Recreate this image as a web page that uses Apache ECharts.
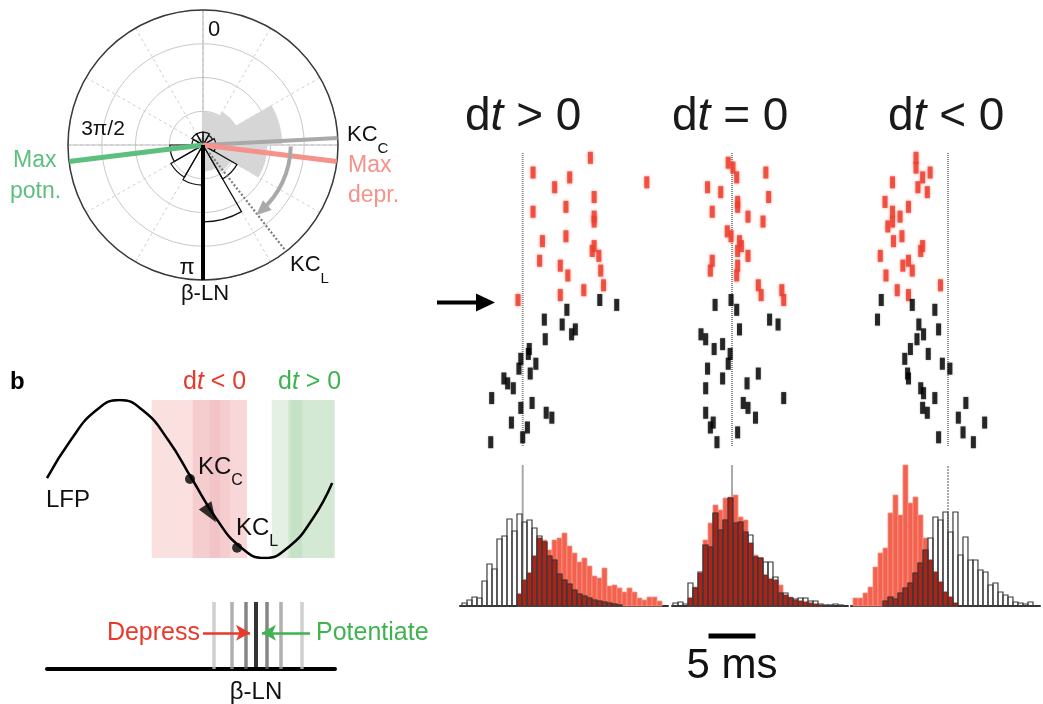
<!DOCTYPE html>
<html>
<head>
<meta charset="utf-8">
<script src="https://cdn.jsdelivr.net/npm/echarts@6/dist/echarts.min.js"></script>
<style>
html,body{margin:0;padding:0;background:#fff;}
#main{width:1043px;height:704px;}
</style>
</head>
<body>
<div id="main"></div>
<script>
var chart = echarts.init(document.getElementById('main'));
var FONT = '"Liberation Sans", Arial, Helvetica, sans-serif';

// ---- polar phase histograms (12 bins of 30 deg, radius in ring units) ----
var roseBins = ['0','30','60','90','120','150','180','210','240','270','300','330'];
var roseKcC = [0.98,1.13,2.34,1.9,0.95,0.78,0.2,0.17,0.17,0.2,0.25,0.22];
var roseBetaLN = [0.38,0.33,0.38,0.38,1.16,2.28,1.19,1.1,0.98,0.33,0.38,0.38];
// phase angles (deg, 0 at top, clockwise)
var angKcC = 87, angKcL = 142, angMaxDepr = 97, angMaxPotn = 263, angBetaLN = 180;
var arcAngles = [91, 103, 115, 127, 138];
var arcRadius = 2.6;

// ---- rasters: [time (ms from beta-LN spike), trial] ----
var rasterRed1 = [[7.2,1],[1.1,4],[5.0,5],[13.2,6],[3.4,7],[7.6,9],[1.1,12],[4.6,11],[7.6,13],[7.6,14],[2.1,18],[4.6,17],[7.6,19],[7.4,20],[8.1,21],[1.8,22],[4.0,23],[8.3,24],[4.8,25],[8.6,27],[6.5,28],[4.0,29],[-0.5,30]];
var rasterBlack1 = [[8.2,30],[10.0,31],[4.7,32],[2.3,34],[4.2,35],[5.6,36],[5.2,37],[2.4,38],[0.7,40],[0.6,41],[-0.2,42],[1.4,43],[-0.4,44],[0.8,45],[-2.0,46],[-1.6,47],[-1.0,48],[-3.3,50],[1.0,51],[-0.2,52],[2.5,53],[3.1,54],[-1.2,55],[0.5,56],[0.0,58],[-3.4,59]];
var rasterRed2 = [[-0.4,2],[0.1,3],[0.5,5],[3.6,4],[-2.6,7],[-1.2,8],[3.9,9],[0.6,10],[0.6,11],[-2.1,12],[1.7,13],[3.3,14],[-0.5,16],[-0.1,17],[0.8,18],[1.0,19],[0.6,20],[1.7,21],[-2.1,22],[0.6,23],[-2.3,24],[0.5,25],[2.8,27],[5.3,28],[3.1,29],[5.5,30]];
var rasterBlack2 = [[-0.1,30],[-1.8,31],[0.5,32],[4.0,34],[4.9,35],[0.8,36],[-3.3,37],[-2.8,38],[-1.0,39],[-1.9,40],[-0.2,41],[-0.4,43],[-2.6,44],[2.8,45],[-1.0,46],[1.6,47],[-2.8,48],[5.5,50],[1.2,51],[1.7,52],[-2.8,53],[2.5,54],[-2.0,55],[-2.3,56],[0.6,57],[-1.6,59]];
var rasterRed3 = [[-3.4,1],[-3.4,3],[-1.9,4],[-2.7,5],[-5.9,6],[-3.2,7],[-2.2,8],[-6.7,10],[-4.2,11],[-5.9,12],[-5.1,13],[-5.9,14],[-6.4,15],[-4.9,17],[-5.8,18],[-2.7,19],[-2.9,20],[-7.2,21],[-4.2,22],[-4.8,23],[-3.8,24],[-6.6,25],[-0.8,27],[-5.4,28],[-4.2,29]];
var rasterBlack3 = [[-7.1,30],[-3.8,31],[-1.4,32],[-7.5,34],[-3.1,35],[-1.0,36],[-2.6,37],[-3.3,38],[-4.0,40],[-2.1,41],[-4.6,42],[-0.6,43],[0.2,44],[-4.3,45],[-4.2,46],[-2.9,48],[-2.6,49],[-1.4,50],[1.9,51],[-2.7,52],[-2.2,53],[1.1,54],[3.9,55],[1.6,57],[-1.0,58],[2.7,59]];

// ---- spike-time histograms (counts per bin), first bin start in ms ----
var BIN = 0.532;
var histGray1 = [3,6,9,8,25,42,37,67,70,87,75,92,84,86,78,70,64,50,46,32,26,22,16,12,10,8,6,5,4,3,2,1];
var histRed1 = [12,26,33,50,68,66,56,66,68,73,60,53,44,48,40,30,28,38,20,21,18,14,18,14,8,6,9,9,5];
var histGray2 = [3,4,2,23,18,34,61,59,93,76,86,108,83,84,74,71,49,48,44,44,29,13,13,8,7,8,8,5,5,2,1,1,2,1];
var histRed2 = [8,19,33,66,83,101,96,108,109,111,89,86,63,51,48,31,27,26,21,11,9,6,5,4,3,2,1];
var histGray3 = [5,9,7,13,18,23,33,43,56,68,89,86,94,74,94,51,69,46,46,36,34,21,23,14,11,9,4,3,2,4];
var histRed3 = [8,8,13,19,39,53,58,93,111,91,141,103,109,91,68,46,34,24,14,9,3];
var grayStart = [-6.46, -6.28, -6.92];
var redStart = [-0.61, -4.68, -10.11];

// ---- LFP schematic (phase deg, normalised amplitude) ----
var lfpPhase = [0,30,60,90,120,150,180,210,240,270,300,330,354];
var lfpValue = [0.01,0.5,0.86,1,0.86,0.5,0,-0.5,-0.86,-1,-0.86,-0.5,-0.05];
var kcPoints = [[177.5,0.0],[236,-0.87]];
var lfpArrow = [203,-0.44];
var bandRed = [[130,248],[181,248],[181,227],[202,215]];
var bandGreen = [[279,357],[299,357],[302,317]];

// ---- timing diagram: other spikes around the beta-LN spike ----
var betaOffsets = [-42,-24,-10,0,11,25,46];

// layout of the three right-hand panels (px)
var PXMS = 9.4;
var panels = [
  {left: 460, right: 668, zero: 522.7},
  {left: 672, right: 848, zero: 732},
  {left: 851, right: 1040, zero: 948}
];

function binsToRects(counts, start) {
  return counts.map(function (c, i) { return [start + i * BIN, start + (i + 1) * BIN, c]; });
}
function overlapRects(gray, gStart, red, rStart) {
  var off = Math.round((rStart - gStart) / BIN);
  var out = [];
  red.forEach(function (c, i) {
    var g = gray[i + off];
    if (g !== undefined) out.push([rStart + i * BIN, rStart + (i + 1) * BIN, Math.min(c, g)]);
  });
  return out;
}
function histRender(fill, stroke, lw) {
  return function (params, api) {
    var p0 = api.coord([api.value(0), api.value(2)]);
    var p1 = api.coord([api.value(1), 0]);
    return {
      type: 'rect',
      shape: {x: p0[0], y: p0[1], width: p1[0] - p0[0], height: p1[1] - p0[1]},
      style: {fill: fill, stroke: stroke, lineWidth: lw}
    };
  };
}
function radial(angle, r0, r1, color, width, type) {
  return {
    type: 'line', coordinateSystem: 'polar', polarIndex: 1,
    data: [[r0, angle], [r1, angle]], showSymbol: false, silent: true,
    lineStyle: {color: color, width: width, type: type || 'solid', cap: 'butt'}, z: 4
  };
}

var grids = [], xAxes = [], yAxes = [], series = [];
// raster grids 0..2
panels.forEach(function (p) {
  grids.push({left: p.left, width: p.right - p.left, top: 148, height: 304});
  xAxes.push({gridIndex: xAxes.length, type: 'value', min: (p.left - p.zero) / PXMS, max: (p.right - p.zero) / PXMS, show: false});
  yAxes.push({gridIndex: yAxes.length, type: 'value', min: -1, max: 61, inverse: true, show: false});
});
// histogram grids 3..5
panels.forEach(function (p) {
  grids.push({left: p.left, width: p.right - p.left, top: 465, height: 141});
  xAxes.push({gridIndex: xAxes.length, type: 'value', min: (p.left - p.zero) / PXMS, max: (p.right - p.zero) / PXMS,
    axisLine: {show: true, onZero: false, lineStyle: {color: '#333', width: 2}},
    axisTick: {show: false}, axisLabel: {show: false}, splitLine: {show: false}});
  yAxes.push({gridIndex: yAxes.length, type: 'value', min: 0, max: 141, show: false});
});
// LFP grid (6) and timing grid (7)
grids.push({left: 47, width: 290, top: 400, height: 158});
grids.push({left: 47, width: 288, top: 602, height: 67});
xAxes.push({gridIndex: 6, type: 'value', min: 0, max: 360, show: false});
yAxes.push({gridIndex: 6, type: 'value', min: -1, max: 1, show: false});
xAxes.push({gridIndex: 7, type: 'value', min: -209, max: 79,
  axisLine: {show: true, lineStyle: {color: '#000', width: 4}},
  axisTick: {show: false}, axisLabel: {show: false}, splitLine: {show: false}});
yAxes.push({gridIndex: 7, type: 'value', min: 0, max: 1, show: false});

// polar
series.push({type: 'bar', coordinateSystem: 'polar', polarIndex: 0, data: roseKcC,
  barGap: '-100%', barCategoryGap: '0%', itemStyle: {color: '#d6d6d6', borderColor: '#d6d6d6', borderWidth: 0.6}, silent: true, z: 2});
series.push({type: 'bar', coordinateSystem: 'polar', polarIndex: 0, data: roseBetaLN,
  barGap: '-100%', barCategoryGap: '0%', itemStyle: {color: 'rgba(0,0,0,0)', borderColor: '#111', borderWidth: 1.2}, silent: true, z: 3});
series.push(radial(angKcC, 0, 4, '#a9a9a9', 4));
series.push(radial(angMaxDepr, 0, 4, '#f4928b', 5));
series.push(radial(angMaxPotn, 0, 4, '#5cbf7e', 5));
series.push(radial(angKcL, 0.3, 3.95, '#7a7a7a', 2.2, [2, 2]));
series.push(radial(angBetaLN, 0, 4, '#000', 4));
series.push({
  type: 'line', coordinateSystem: 'polar', polarIndex: 1, smooth: true, silent: true, z: 4,
  data: arcAngles.map(function (a, i) {
    var last = i === arcAngles.length - 1;
    return {value: [arcRadius, a], symbol: last ? 'triangle' : 'none', symbolSize: last ? [13, 15] : 0, symbolRotate: 132,
      itemStyle: {color: '#a9a9a9'}};
  }),
  showSymbol: true, lineStyle: {color: '#a9a9a9', width: 4}
});

// rasters
var rasterRed = [rasterRed1, rasterRed2, rasterRed3];
var rasterBlack = [rasterBlack1, rasterBlack2, rasterBlack3];
panels.forEach(function (p, i) {
  series.push({type: 'line', xAxisIndex: i, yAxisIndex: i, data: [[0, 0], [0, 60]], showSymbol: false, silent: true,
    lineStyle: {color: '#8c8c8c', width: 2, type: [1, 1]}, z: 1});
  series.push({type: 'scatter', xAxisIndex: i, yAxisIndex: i, data: rasterRed[i], symbol: 'rect', symbolSize: [5, 12],
    itemStyle: {color: '#ee3a2a', shadowBlur: 3, shadowColor: 'rgba(240,90,70,0.8)'}, silent: true, z: 3});
  series.push({type: 'scatter', xAxisIndex: i, yAxisIndex: i, data: rasterBlack[i], symbol: 'rect', symbolSize: [5, 12],
    itemStyle: {color: '#000', shadowBlur: 2, shadowColor: 'rgba(0,0,0,0.35)'}, silent: true, z: 3});
});

// histograms
var histGray = [histGray1, histGray2, histGray3];
var histRed = [histRed1, histRed2, histRed3];
panels.forEach(function (p, i) {
  var ax = 3 + i;
  series.push({type: 'line', xAxisIndex: ax, yAxisIndex: ax, data: [[0, 0], [0, 141]], showSymbol: false, silent: true,
    lineStyle: {color: '#aaa', width: 2, type: i === 2 ? [2, 1] : 'solid'}, z: 1});
  series.push({type: 'custom', xAxisIndex: ax, yAxisIndex: ax, encode: {x: [0, 1], y: 2}, silent: true, z: 2,
    data: binsToRects(histRed[i], redStart[i]), renderItem: histRender('#f4614f', '#f29585', 0.8)});
  series.push({type: 'custom', xAxisIndex: ax, yAxisIndex: ax, encode: {x: [0, 1], y: 2}, silent: true, z: 3,
    data: overlapRects(histGray[i], grayStart[i], histRed[i], redStart[i]), renderItem: histRender('#ad2318', '#8a1a12', 0.6)});
  series.push({type: 'custom', xAxisIndex: ax, yAxisIndex: ax, encode: {x: [0, 1], y: 2}, silent: true, z: 4,
    data: binsToRects(histGray[i], grayStart[i]), renderItem: histRender('rgba(255,255,255,0)', '#3c3c3c', 1.2)});
});

// LFP
var redColors = ['#fbe0e0', '#f9d6d7', '#f6cdcf', '#f3c4c7'];
var greenColors = ['#e5f0e5', '#d4e9d4', '#c6e2c6'];
series.push({
  type: 'line', xAxisIndex: 6, yAxisIndex: 6, smooth: true, showSymbol: false, silent: true, z: 3,
  data: lfpPhase.map(function (p, i) { return [p, lfpValue[i]]; }),
  lineStyle: {color: '#000', width: 2.5},
  markArea: {silent: true, data: bandRed.map(function (b, i) {
    return [{xAxis: b[0], itemStyle: {color: redColors[i]}}, {xAxis: b[1]}];
  }).concat(bandGreen.map(function (b, i) {
    return [{xAxis: b[0], itemStyle: {color: greenColors[i]}}, {xAxis: b[1]}];
  }))}
});
series.push({type: 'scatter', xAxisIndex: 6, yAxisIndex: 6, data: kcPoints, symbolSize: 10,
  itemStyle: {color: '#000'}, silent: true, z: 5});
series.push({type: 'scatter', xAxisIndex: 6, yAxisIndex: 6, data: [lfpArrow], symbol: 'triangle', symbolSize: [15, 20],
  symbolRotate: -147, itemStyle: {color: '#000'}, silent: true, z: 5});

// timing diagram
var betaShades = ['#c4c4c4', '#9c9c9c', '#666', '#000', '#666', '#9c9c9c', '#c4c4c4'];
series.push({
  type: 'scatter', xAxisIndex: 7, yAxisIndex: 7, silent: true, z: 3, symbol: 'rect',
  data: betaOffsets.map(function (v, i) {
    return {value: [v, 0.5], symbolSize: [v === 0 ? 4 : 3.5, 67], itemStyle: {color: betaShades[i]}};
  }),
  markLine: {silent: true, symbol: ['none', 'arrow'], symbolSize: [12, 14], label: {show: false},
    data: [
      [{coord: [-53, 0.54], lineStyle: {color: '#e8392a', width: 2.5, type: 'solid'}}, {coord: [-6, 0.54]}],
      [{coord: [54, 0.54], lineStyle: {color: '#3fb34f', width: 2.5, type: 'solid'}}, {coord: [6, 0.54]}]
    ]}
});

var option = {
  animation: false,
  backgroundColor: '#fff',
  polar: [
    {center: [203, 145], radius: 135},
    {center: [203, 145], radius: 135},
    {center: [203, 145], radius: 135}
  ],
  angleAxis: [
    {polarIndex: 0, type: 'category', data: roseBins, startAngle: 90, clockwise: true, boundaryGap: true,
      axisLine: {show: true, lineStyle: {color: '#3a3a3a', width: 1.5}}, axisTick: {show: false}, axisLabel: {show: false},
      splitLine: {show: false}},
    {polarIndex: 1, type: 'value', min: 0, max: 360, interval: 30, startAngle: 90, clockwise: true,
      axisLine: {show: false}, axisTick: {show: false}, axisLabel: {show: false},
      splitLine: {show: true, lineStyle: {color: '#cfcfcf', width: 1, type: [3, 3]}}},
    {polarIndex: 2, type: 'value', min: 0, max: 360, interval: 90, startAngle: 90, clockwise: true,
      axisLine: {show: false}, axisTick: {show: false}, axisLabel: {show: false},
      splitLine: {show: true, lineStyle: {color: '#bdbdbd', width: 1.2}}}
  ],
  radiusAxis: [
    {polarIndex: 0, type: 'value', min: 0, max: 4, interval: 1,
      axisLine: {show: false}, axisTick: {show: false}, axisLabel: {show: false},
      splitLine: {show: true, lineStyle: {color: '#c8c8c8', width: 1}}},
    {polarIndex: 1, type: 'value', min: 0, max: 4, interval: 1,
      axisLine: {show: false}, axisTick: {show: false}, axisLabel: {show: false}, splitLine: {show: false}},
    {polarIndex: 2, type: 'value', min: 0, max: 4, interval: 1,
      axisLine: {show: false}, axisTick: {show: false}, axisLabel: {show: false}, splitLine: {show: false}}
  ],
  grid: grids,
  xAxis: xAxes,
  yAxis: yAxes,
  series: series
};
chart.setOption(option);

// ---- annotations ----
function txt(x, y, text, size, color, align, extra) {
  var st = {text: text, fontSize: size, fontFamily: FONT, fill: color || '#111',
    align: align || 'left', textAlign: align || 'left', verticalAlign: 'middle', textVerticalAlign: 'middle'};
  if (extra) for (var k in extra) st[k] = extra[k];
  return {type: 'text', x: x, y: y, silent: true, z: 100, style: st};
}
function dtRich(size, color) {
  return {
    d: {fontSize: size, fontFamily: FONT, fill: color, color: color},
    t: {fontSize: size, fontFamily: FONT, fontStyle: 'italic', fill: color, color: color}
  };
}
function kcRich(size, color) {
  return {
    m: {fontSize: size, fontFamily: FONT, fill: color, color: color, lineHeight: size + 10, verticalAlign: 'top'},
    s: {fontSize: Math.round(size * 0.68), fontFamily: FONT, fill: color, color: color, lineHeight: size + 10, verticalAlign: 'bottom'}
  };
}
var elements = [];
// titles
elements.push(txt(465, 117, '{d|d}{t|t}{d| > 0}', 46, '#1a1a1a', 'left', {rich: dtRich(46, '#1a1a1a')}));
elements.push(txt(672, 117, '{d|d}{t|t}{d| = 0}', 46, '#1a1a1a', 'left', {rich: dtRich(46, '#1a1a1a')}));
elements.push(txt(888, 117, '{d|d}{t|t}{d| < 0}', 46, '#1a1a1a', 'left', {rich: dtRich(46, '#1a1a1a')}));
// polar labels
elements.push(txt(214, 30, '0', 22, '#111', 'center'));
elements.push(txt(103, 129, '3\u03c0/2', 21, '#111', 'center'));
elements.push(txt(187, 268, '\u03c0', 22, '#111', 'center'));
elements.push(txt(205, 294, '\u03b2-LN', 22, '#111', 'center'));
elements.push(txt(347, 140, '{m|KC}{s|C}', 22, '#111', 'left', {rich: kcRich(22, '#111')}));
elements.push(txt(348, 166, 'Max', 23, '#f4928b'));
elements.push(txt(348, 196, 'depr.', 23, '#f4928b'));
elements.push(txt(13, 161, 'Max', 23, '#5cbf7e'));
elements.push(txt(10, 192, 'potn.', 23, '#5cbf7e'));
elements.push(txt(290, 270, '{m|KC}{s|L}', 22, '#111', 'left', {rich: kcRich(22, '#111')}));
// panel b
elements.push(txt(10, 382, 'b', 24, '#000', 'left', {fontWeight: 'bold'}));
elements.push(txt(183, 382, '{d|d}{t|t}{d| < 0}', 25, '#e8392a', 'left', {rich: dtRich(25, '#e8392a')}));
elements.push(txt(278, 382, '{d|d}{t|t}{d| > 0}', 25, '#3fb34f', 'left', {rich: dtRich(25, '#3fb34f')}));
elements.push(txt(46, 500, 'LFP', 24));
elements.push(txt(198, 472, '{m|KC}{s|C}', 24, '#111', 'left', {rich: kcRich(24, '#111')}));
elements.push(txt(236, 533, '{m|KC}{s|L}', 24, '#111', 'left', {rich: kcRich(24, '#111')}));
elements.push(txt(200, 633, 'Depress', 25, '#e8392a', 'right'));
elements.push(txt(316, 633, 'Potentiate', 25, '#3fb34f'));
elements.push(txt(256, 692, '\u03b2-LN', 24, '#111', 'center'));
// arrow pointing at the switch trial in the first raster
var rowY = chart.convertToPixel({yAxisIndex: 0}, 30.5);
elements.push({type: 'line', silent: true, shape: {x1: 437, y1: rowY, x2: 480, y2: rowY}, style: {stroke: '#000', lineWidth: 4}});
elements.push({type: 'polygon', silent: true, shape: {points: [[476, rowY - 9], [495, rowY], [476, rowY + 9]]}, style: {fill: '#000'}});
// 5 ms scale bar under the middle histogram
var sb0 = chart.convertToPixel({xAxisIndex: 4}, -2.5);
var sb1 = chart.convertToPixel({xAxisIndex: 4}, 2.5);
elements.push({type: 'line', silent: true, shape: {x1: sb0, y1: 636, x2: sb1, y2: 636}, style: {stroke: '#000', lineWidth: 5}});
elements.push(txt((sb0 + sb1) / 2, 666, '5 ms', 42, '#111', 'center'));

chart.setOption({graphic: {elements: elements}});
</script>
</body>
</html>
